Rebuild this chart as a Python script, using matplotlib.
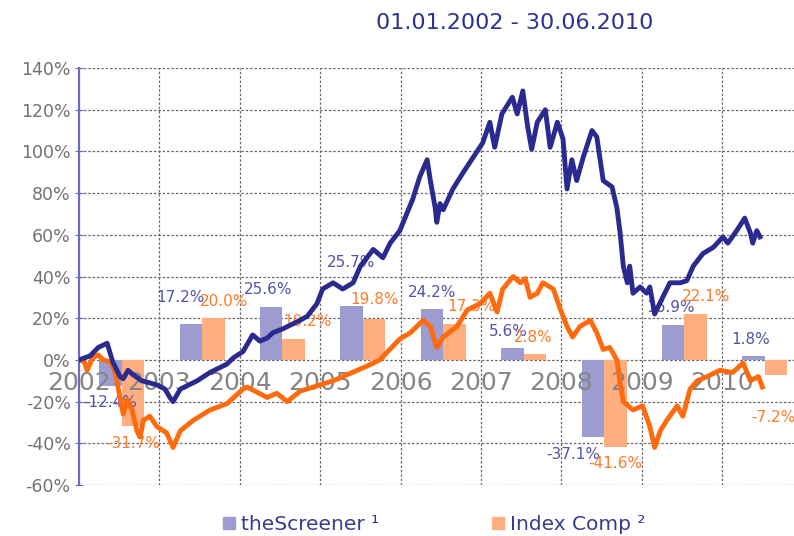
import numpy as np
from matplotlib import pyplot as plt
from matplotlib.lines import Line2D

# yearly returns (bars)
years = [2002, 2003, 2004, 2005, 2006, 2007, 2008, 2009, 2010]
screener_ret = [-12.4, 17.2, 25.6, 25.7, 24.2, 5.6, -37.1, 16.9, 1.8]
index_ret = [-31.7, 20.0, 10.2, 19.8, 17.3, 2.8, -41.6, 22.1, -7.2]

# cumulative performance (time in years, value in %)
screener_t = [2002.0, 2002.14, 2002.24, 2002.35, 2002.42, 2002.51, 2002.55, 2002.61, 2002.67,
              2002.78, 2002.88, 2002.97, 2003.07, 2003.13, 2003.17, 2003.26, 2003.47, 2003.63,
              2003.84, 2003.92, 2004.04, 2004.16, 2004.25, 2004.34, 2004.41, 2004.54, 2004.75,
              2004.84, 2004.96, 2005.03, 2005.16, 2005.28, 2005.41, 2005.50, 2005.66, 2005.78,
              2005.87, 2005.99, 2006.15, 2006.24, 2006.33, 2006.37, 2006.43, 2006.45, 2006.49,
              2006.53, 2006.65, 2006.78, 2006.90, 2007.02, 2007.11, 2007.17, 2007.26, 2007.39,
              2007.45, 2007.52, 2007.58, 2007.63, 2007.70, 2007.80, 2007.86, 2007.95, 2008.02,
              2008.07, 2008.13, 2008.19, 2008.27, 2008.38, 2008.44, 2008.52, 2008.63, 2008.69,
              2008.73, 2008.77, 2008.82, 2008.85, 2008.89, 2008.98, 2009.06, 2009.10, 2009.16,
              2009.26, 2009.35, 2009.48, 2009.56, 2009.64, 2009.76, 2009.89, 2010.01, 2010.07,
              2010.18, 2010.28, 2010.35, 2010.38, 2010.43, 2010.47]
screener_v = [0, 2, 6, 8, -1, -8, -9, -5, -7,
              -10, -11, -12, -14, -18, -20, -14, -10, -6,
              -2, 1, 4, 12, 9, 10.5, 13, 15, 19,
              21, 27, 34, 37, 34, 37, 45, 53, 49,
              56, 62, 77, 88, 96, 86, 73, 66, 75,
              72, 82, 90, 97, 104, 114, 102, 118, 126,
              118, 129, 112, 101, 114, 120, 102, 114, 106,
              82, 96, 86, 97, 110, 107, 86, 83, 73,
              61, 45, 37, 45, 32, 35, 32, 35, 22,
              30, 37, 37, 38, 45, 51, 54, 59, 56,
              62, 68, 61, 56, 62, 59]

index_t = [2002.0, 2002.07, 2002.10, 2002.17, 2002.24, 2002.30, 2002.39, 2002.45, 2002.51,
           2002.55, 2002.60, 2002.66, 2002.72, 2002.76, 2002.80, 2002.88, 2002.97, 2003.09,
           2003.17, 2003.26, 2003.42, 2003.63, 2003.84, 2004.04, 2004.09, 2004.34, 2004.46,
           2004.59, 2004.75, 2005.16, 2005.58, 2005.74, 2005.99, 2006.12, 2006.28, 2006.37,
           2006.45, 2006.53, 2006.70, 2006.83, 2006.99, 2007.11, 2007.20, 2007.27, 2007.40,
           2007.49, 2007.55, 2007.61, 2007.70, 2007.77, 2007.90, 2007.98, 2008.07, 2008.14,
           2008.23, 2008.36, 2008.44, 2008.52, 2008.60, 2008.69, 2008.73, 2008.77, 2008.89,
           2009.01, 2009.10, 2009.16, 2009.23, 2009.31, 2009.44, 2009.51, 2009.60, 2009.69,
           2009.81, 2009.97, 2010.13, 2010.26, 2010.35, 2010.45, 2010.50]
index_v = [0, -1, -5, 1, 2.4, 0, -1, -6, -18,
           -26, -19, -24, -34, -37, -29, -27, -32, -35,
           -42, -34, -29, -24, -21, -14, -13, -18, -16,
           -20, -15, -10, -3, 0, 10, 13, 19, 16,
           6, 11, 16, 24, 27, 32, 23, 34, 40,
           37, 39, 30, 32, 37, 34, 25, 16, 11,
           16, 19, 13, 5, 6, 0, -11, -20, -24,
           -22, -32, -42, -34, -29, -22, -27, -14, -10,
           -8, -5, -6, -1.5, -10, -8, -13]

blue = '#2b2b8f'
orange = '#ff6a0d'
bar_blue = '#9c9cd0'
bar_orange = '#ffae80'
lab_blue = '#5252ae'
lab_orange = '#ff7a2a'

fig = plt.figure(figsize=(7.94, 5.36), dpi=100)
ax = fig.add_axes([0.0995, 0.0951, 0.9005, 0.778])

w = 0.28
xs = np.array(years) + 0.53
ax.bar(xs - w / 2, screener_ret, w, color=bar_blue, zorder=2)
ax.bar(xs + w / 2, index_ret, w, color=bar_orange, zorder=2)

# label nudges in pixels (dx, extra dy)
nud_s = [(0, 0), (-10, 10), (-3, 0), (0, 27), (0, 0), (-4, 0), (-20, 0), (-3, 0), (-3, 0)]
nud_i = [(0, 0), (11, 0), (14, 0), (0, 2), (17, 0), (-2, 0), (0, 0), (10, 0), (-3, 26)]
for x, v, n in zip(xs - w / 2, screener_ret, nud_s):
    s = 1 if v >= 0 else -1
    ax.annotate('%.1f%%' % v, (x, v), xytext=(n[0], s * (17 + n[1])), textcoords='offset pixels',
                ha='center', va='center', color=lab_blue, fontsize=11, zorder=3)
for x, v, n in zip(xs + w / 2, index_ret, nud_i):
    s = 1 if v >= 0 else -1
    ax.annotate('%.1f%%' % v, (x, v), xytext=(n[0], s * (17 + n[1])), textcoords='offset pixels',
                ha='center', va='center', color=lab_orange, fontsize=11, zorder=3)

for y in years:
    ax.text(y, -11, str(y), ha='center', va='center', fontsize=18, color='#858585', zorder=2.5)

ax.plot(index_t, index_v, color=orange, lw=3.5, zorder=4, solid_joinstyle='round')
ax.plot(screener_t, screener_v, color=blue, lw=3.5, zorder=5, solid_joinstyle='round')

ax.set_xlim(2002, 2002 + 715 / 80.4)
ax.set_ylim(-60, 140)
ax.set_yticks(range(-60, 141, 20))
ax.set_yticklabels(['%d%%' % t for t in range(-60, 141, 20)], fontsize=12.5, color='#727272')
ax.set_xticks(years)
ax.set_xticklabels([])
ax.tick_params(axis='x', length=0)
ax.tick_params(axis='y', direction='inout', length=6, color='#6a6acd', pad=3)
for sp in ['top', 'right', 'bottom']:
    ax.spines[sp].set_visible(False)
ax.spines['left'].set_color('#6a6acd')
ax.spines['left'].set_linewidth(1.5)
ax.grid(True, color='#6a6a6a', linestyle=(0, (2, 1.5)), linewidth=0.9, zorder=0)
ax.set_axisbelow(True)

fig.text(0.648, 0.958, '01.01.2002 - 30.06.2010', ha='center', va='center',
         fontsize=16, color='#2e3192')

handles = [Line2D([], [], marker='s', ls='', color=bar_blue, markersize=8),
           Line2D([], [], marker='s', ls='', color=bar_orange, markersize=8)]
fig.legend(handles, ['theScreener ¹', 'Index Comp ²'], loc='center', bbox_to_anchor=(0.545, 0.022),
           ncol=2, frameon=False, fontsize=14.5, labelcolor='#3b3b8c', handletextpad=0.2,
           columnspacing=5.5, handlelength=0.8)

fig.savefig('out.png', dpi=100)
